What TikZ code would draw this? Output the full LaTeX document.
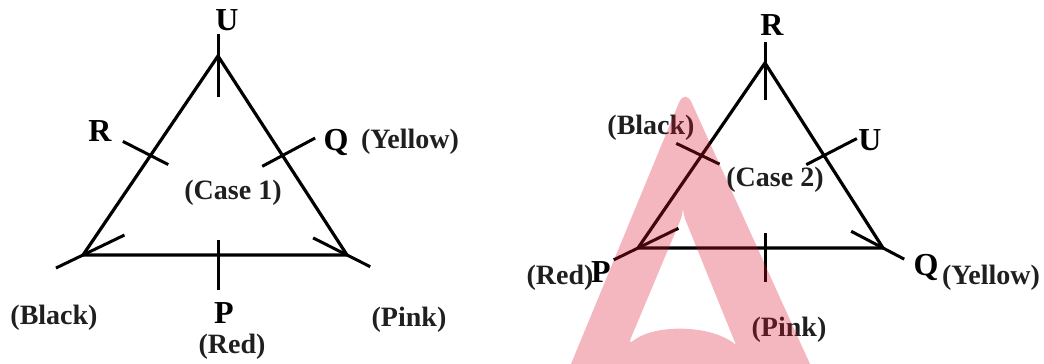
\documentclass[tikz,border=0pt]{standalone}
\usepackage{fontspec}
\setmainfont{Liberation Serif}
\usetikzlibrary{calc}
\definecolor{wmark}{RGB}{218,18,42}
\tikzset{
  side/.style={line width=3.2pt,line join=miter},
  seat/.style={line width=3pt},
  pname/.style={inner sep=0pt,font=\fontsize{32}{34}\selectfont\bfseries},
  ctag/.style={inner sep=0pt,font=\fontsize{28}{30}\selectfont\bfseries,text=black!88}
}

\begin{document}
\begin{tikzpicture}[x=1pt,y=-1pt]
  \useasboundingbox (0,0) rectangle (1044,364);
  % case 1
  \coordinate (a1) at (218,56);
  \coordinate (b1) at (83,255);
  \coordinate (c1) at (347,255);
  \coordinate (o1) at (218,190);
  \coordinate (m1) at ($(a1)!0.5!(b1)$);
  \coordinate (n1) at ($(a1)!0.5!(c1)$);
  \coordinate (k1) at (218,255);
  \draw[side] (a1)--(b1)--(c1)--cycle;
  \draw[seat] ($(a1)!-22pt!(o1)$)--($(a1)!41pt!(o1)$);
  \draw[seat] ($(b1)!-30pt!(o1)$)--($(b1)!46pt!(o1)$);
  \draw[seat] ($(c1)!-26pt!(o1)$)--($(c1)!38pt!(o1)$);
  \draw[seat] ($(m1)!-31pt!(o1)$)--($(m1)!20pt!(o1)$);
  \draw[seat] ($(n1)!-37pt!(o1)$)--($(n1)!23pt!(o1)$);
  \draw[seat] ($(k1)!-35pt!(o1)$)--($(k1)!15pt!(o1)$);
  \node[pname] (U1) at (227,20) {U};
  \node[pname] (R1) at (100,131) {R};
  \node[pname] (Q1) at (336,142) {Q};
  \node[ctag] (y1) at (410,142) {(Yellow)};
  \node[ctag] (case1) at (233,193) {(Case 1)};
  \node[ctag] (bk1) at (54,318) {(Black)};
  \node[pname] (P1) at (224,313) {P};
  \node[ctag] (rd1) at (232,347) {(Red)};
  \node[ctag] (pk1) at (409,320) {(Pink)};
  % case 2
  \coordinate (a2) at (765,63);
  \coordinate (b2) at (638,248);
  \coordinate (c2) at (883,248);
  \coordinate (o2) at (765,186);
  \coordinate (m2) at ($(a2)!0.5!(b2)$);
  \coordinate (n2) at ($(a2)!0.5!(c2)$);
  \coordinate (k2) at (765,248);
  \draw[side] (a2)--(b2)--(c2)--cycle;
  \draw[seat] ($(a2)!-21pt!(o2)$)--($(a2)!37pt!(o2)$);
  \draw[seat] ($(b2)!-27pt!(o2)$)--($(b2)!45pt!(o2)$);
  \draw[seat] ($(c2)!-24pt!(o2)$)--($(c2)!36pt!(o2)$);
  \draw[seat] ($(m2)!-28pt!(o2)$)--($(m2)!20pt!(o2)$);
  \draw[seat] ($(n2)!-37pt!(o2)$)--($(n2)!20pt!(o2)$);
  \draw[seat] ($(k2)!-34pt!(o2)$)--($(k2)!15pt!(o2)$);
  \node[pname] (R2) at (772,25) {R};
  \node[ctag] (bk2) at (651,128) {(Black)};
  \node[pname] (U2) at (870,140) {U};
  \node[ctag] (case2) at (775,180) {(Case 2)};
  \node[ctag] (rd2) at (560,278) {(Red)};
  \node[pname] (P2) at (601,272) {P};
  \node[pname] (Q2) at (926,267) {Q};
  \node[ctag] (y2) at (991,278) {(Yellow)};
  \node[ctag] (pk2) at (789,330) {(Pink)};
  % watermark
  \fill[wmark,opacity=0.3,even odd rule]
    (571,364) [rounded corners=16pt]-- (685,88) [sharp corners]-- (810,364) -- cycle
    [rounded corners=7pt] (683,214) -- (628,345) [sharp corners] .. controls (654,324) and (712,324) .. (736,345) [rounded corners=7pt] -- (683,214) -- cycle;
\end{tikzpicture}
\end{document}
